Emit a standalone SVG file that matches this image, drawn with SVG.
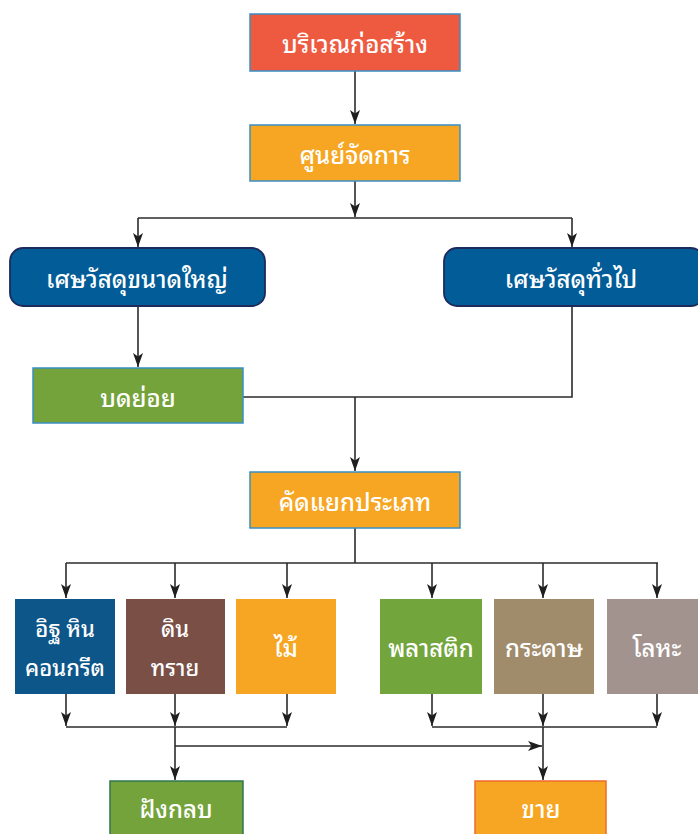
<svg xmlns="http://www.w3.org/2000/svg" width="698" height="834" viewBox="0 0 698 834">
  <style>
    .t { font-family: "Noto Sans Thai Looped", "Noto Sans Thai", "Noto Sans", "DejaVu Sans", sans-serif; font-size: 24px; font-weight: 500; fill: #ffffff; text-anchor: middle; dominant-baseline: central; }
    .t2 { font-size: 22px; }
    .ln { fill: none; stroke: #2b2b2b; stroke-width: 1.6; }
    .ar { marker-end: url(#arr); }
    .top { stroke: #3a8fc4; stroke-width: 1.5; }
    .cat { stroke: none; }
  </style>
  <defs>
    <!-- slim arrowhead with a notched back, drawn along +x -->
    <marker id="arr" viewBox="0 0 14 10" refX="14" refY="5" markerWidth="14" markerHeight="10" markerUnits="userSpaceOnUse" orient="auto">
      <path d="M0,0 L14,5 L0,10 L3.5,5 z" fill="#1e1e1e"/>
    </marker>
  </defs>

  <rect width="698" height="834" fill="#ffffff"/>

  <!-- connectors -->
  <g id="connectors">
    <path class="ln ar" d="M355,71 V124"/>
    <path class="ln ar" d="M355,181 V217"/>
    <path class="ln" d="M138,218 H572"/>
    <path class="ln ar" d="M138,218 V247"/>
    <path class="ln ar" d="M572,218 V247"/>
    <path class="ln ar" d="M138,306 V367"/>
    <path class="ln" d="M243,397 H572 V306"/>
    <path class="ln ar" d="M355,397 V471"/>
    <path class="ln" d="M355,528 V563"/>
    <path class="ln" d="M66,563 H658"/>
    <path class="ln ar" d="M66,563 V598"/>
    <path class="ln ar" d="M175,563 V598"/>
    <path class="ln ar" d="M287,563 V598"/>
    <path class="ln ar" d="M432,563 V598"/>
    <path class="ln ar" d="M543,563 V598"/>
    <path class="ln ar" d="M657,563 V598"/>
    <path class="ln ar" d="M66,694 V726"/>
    <path class="ln ar" d="M175,694 V726"/>
    <path class="ln ar" d="M287,694 V726"/>
    <path class="ln ar" d="M432,694 V726"/>
    <path class="ln ar" d="M543,694 V726"/>
    <path class="ln ar" d="M657,694 V726"/>
    <path class="ln" d="M66,727 H287"/>
    <path class="ln" d="M432,727 H657"/>
    <path class="ln ar" d="M175,727 V780"/>
    <path class="ln ar" d="M175,746 H542"/>
    <path class="ln ar" d="M543,727 V780"/>
  </g>

  <!-- nodes -->
  <g id="site">
    <rect class="top" x="250" y="14" width="210" height="57" fill="#ee5a3f"/>
    <text class="t" x="355" y="42">บริเวณก่อสร้าง</text>
  </g>
  <g id="center">
    <rect class="top" x="250" y="125" width="210" height="56" fill="#f6a623"/>
    <text class="t" x="355" y="153">ศูนย์จัดการ</text>
  </g>
  <g id="large-waste">
    <rect x="10" y="248" width="255" height="58" rx="13" fill="#015c97" stroke="#1c2a5c" stroke-width="1.8"/>
    <text class="t" x="137" y="277">เศษวัสดุขนาดใหญ่</text>
  </g>
  <g id="general-waste">
    <rect x="444" y="248" width="260" height="58" rx="13" fill="#015c97" stroke="#1c2a5c" stroke-width="1.8"/>
    <text class="t" x="571" y="277">เศษวัสดุทั่วไป</text>
  </g>
  <g id="crush">
    <rect class="top" x="33" y="368" width="210" height="55" fill="#75a33b"/>
    <text class="t" x="138" y="396">บดย่อย</text>
  </g>
  <g id="sort">
    <rect class="top" x="250" y="472" width="210" height="56" fill="#f6a623"/>
    <text class="t" x="355" y="500">คัดแยกประเภท</text>
  </g>

  <g id="brick">
    <rect class="cat" x="15" y="599" width="100" height="95" fill="#0d5689"/>
    <text class="t t2" x="65" y="627">อิฐ หิน</text>
    <text class="t t2" x="65" y="666">คอนกรีต</text>
  </g>
  <g id="soil">
    <rect class="cat" x="126" y="599" width="99" height="95" fill="#7a5046"/>
    <text class="t t2" x="175" y="627">ดิน</text>
    <text class="t t2" x="175" y="666">ทราย</text>
  </g>
  <g id="wood">
    <rect class="cat" x="236" y="599" width="100" height="95" fill="#f6a623"/>
    <text class="t" x="286" y="646">ไม้</text>
  </g>
  <g id="plastic">
    <rect class="cat" x="380" y="599" width="102" height="95" fill="#72a53b"/>
    <text class="t" x="431" y="646">พลาสติก</text>
  </g>
  <g id="paper">
    <rect class="cat" x="494" y="599" width="100" height="95" fill="#a08b6b"/>
    <text class="t" x="544" y="646">กระดาษ</text>
  </g>
  <g id="metal">
    <rect class="cat" x="607" y="599" width="100" height="95" fill="#a2938f"/>
    <text class="t" x="657" y="646">โลหะ</text>
  </g>

  <g id="landfill">
    <rect x="110" y="781" width="133" height="70" fill="#74a33b" stroke="#2f7650" stroke-width="1.5"/>
    <text class="t" x="176" y="807">ฝังกลบ</text>
  </g>
  <g id="sell">
    <rect x="475" y="781" width="131" height="70" fill="#f6a623" stroke="#f06a2e" stroke-width="1.5"/>
    <text class="t" x="541" y="807">ขาย</text>
  </g>
</svg>
